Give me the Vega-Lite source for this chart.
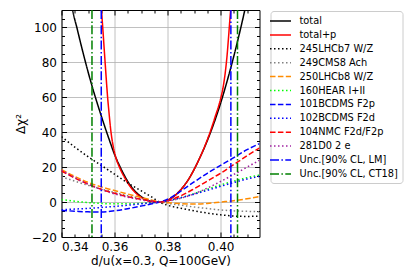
{
  "$schema": "https://vega.github.io/schema/vega-lite/v6.json",
  "width": 198,
  "height": 227,
  "autosize": "none",
  "padding": {"left": 61.5, "top": 10, "right": 160.5, "bottom": 43},
  "config": {
    "font": "DejaVu Sans",
    "view": {"stroke": null},
    "axis": {
      "labelFont": "DejaVu Sans", "titleFont": "DejaVu Sans",
      "labelFontSize": 12, "titleFontSize": 12, "titleFontWeight": "normal",
      "labelColor": "#000000", "titleColor": "#000000",
      "domainColor": "#000000", "tickColor": "#000000",
      "gridColor": "#b0b0b0", "gridWidth": 0.8, "domainWidth": 1, "tickWidth": 1
    }
  },
  "datasets": {
    "curves": [
      {"s": "total", "x": 0.3435, "y": 117},
      {"s": "total", "x": 0.344, "y": 111.9},
      {"s": "total", "x": 0.346, "y": 98.7},
      {"s": "total", "x": 0.348, "y": 86.3},
      {"s": "total", "x": 0.350, "y": 74.7},
      {"s": "total", "x": 0.352, "y": 64},
      {"s": "total", "x": 0.354, "y": 54.1},
      {"s": "total", "x": 0.356, "y": 44.7},
      {"s": "total", "x": 0.358, "y": 35.8},
      {"s": "total", "x": 0.360, "y": 27.3},
      {"s": "total", "x": 0.362, "y": 20.5},
      {"s": "total", "x": 0.364, "y": 14.5},
      {"s": "total", "x": 0.366, "y": 9.5},
      {"s": "total", "x": 0.368, "y": 5.8},
      {"s": "total", "x": 0.370, "y": 3.2},
      {"s": "total", "x": 0.372, "y": 1.4},
      {"s": "total", "x": 0.374, "y": 0.4},
      {"s": "total", "x": 0.3765, "y": 0},
      {"s": "total", "x": 0.378, "y": 0.15},
      {"s": "total", "x": 0.380, "y": 1.1},
      {"s": "total", "x": 0.382, "y": 2.8},
      {"s": "total", "x": 0.384, "y": 5.4},
      {"s": "total", "x": 0.386, "y": 8.9},
      {"s": "total", "x": 0.388, "y": 13.2},
      {"s": "total", "x": 0.390, "y": 18.6},
      {"s": "total", "x": 0.392, "y": 24.8},
      {"s": "total", "x": 0.394, "y": 31.5},
      {"s": "total", "x": 0.396, "y": 39},
      {"s": "total", "x": 0.398, "y": 47.3},
      {"s": "total", "x": 0.400, "y": 56.5},
      {"s": "total", "x": 0.402, "y": 66.7},
      {"s": "total", "x": 0.404, "y": 77.7},
      {"s": "total", "x": 0.406, "y": 89.5},
      {"s": "total", "x": 0.408, "y": 102.2},
      {"s": "total", "x": 0.410, "y": 115.7},
      {"s": "total+p", "x": 0.3545, "y": 125},
      {"s": "total+p", "x": 0.355, "y": 112},
      {"s": "total+p", "x": 0.3556, "y": 99},
      {"s": "total+p", "x": 0.3565, "y": 79},
      {"s": "total+p", "x": 0.3574, "y": 60},
      {"s": "total+p", "x": 0.358, "y": 50},
      {"s": "total+p", "x": 0.3586, "y": 41},
      {"s": "total+p", "x": 0.3595, "y": 32},
      {"s": "total+p", "x": 0.3605, "y": 25.5},
      {"s": "total+p", "x": 0.362, "y": 19.5},
      {"s": "total+p", "x": 0.364, "y": 13.5},
      {"s": "total+p", "x": 0.366, "y": 8.7},
      {"s": "total+p", "x": 0.368, "y": 5.2},
      {"s": "total+p", "x": 0.370, "y": 2.7},
      {"s": "total+p", "x": 0.372, "y": 1.1},
      {"s": "total+p", "x": 0.374, "y": 0.3},
      {"s": "total+p", "x": 0.3765, "y": 0},
      {"s": "total+p", "x": 0.378, "y": 0.2},
      {"s": "total+p", "x": 0.380, "y": 1.1},
      {"s": "total+p", "x": 0.382, "y": 2.8},
      {"s": "total+p", "x": 0.384, "y": 5.4},
      {"s": "total+p", "x": 0.386, "y": 8.9},
      {"s": "total+p", "x": 0.388, "y": 13.2},
      {"s": "total+p", "x": 0.390, "y": 18.6},
      {"s": "total+p", "x": 0.392, "y": 24.8},
      {"s": "total+p", "x": 0.394, "y": 31.8},
      {"s": "total+p", "x": 0.396, "y": 39.8},
      {"s": "total+p", "x": 0.398, "y": 49},
      {"s": "total+p", "x": 0.400, "y": 59},
      {"s": "total+p", "x": 0.401, "y": 66},
      {"s": "total+p", "x": 0.402, "y": 77},
      {"s": "total+p", "x": 0.4025, "y": 84.5},
      {"s": "total+p", "x": 0.403, "y": 94},
      {"s": "total+p", "x": 0.4035, "y": 104},
      {"s": "total+p", "x": 0.404, "y": 113},
      {"s": "total+p", "x": 0.4045, "y": 121},
      {"s": "245LHCb7 W/Z", "x": 0.340, "y": 37.5},
      {"s": "245LHCb7 W/Z", "x": 0.345, "y": 31.5},
      {"s": "245LHCb7 W/Z", "x": 0.350, "y": 26},
      {"s": "245LHCb7 W/Z", "x": 0.355, "y": 21},
      {"s": "245LHCb7 W/Z", "x": 0.360, "y": 16},
      {"s": "245LHCb7 W/Z", "x": 0.365, "y": 11},
      {"s": "245LHCb7 W/Z", "x": 0.370, "y": 6.5},
      {"s": "245LHCb7 W/Z", "x": 0.375, "y": 2},
      {"s": "245LHCb7 W/Z", "x": 0.377, "y": 0},
      {"s": "245LHCb7 W/Z", "x": 0.380, "y": -1.8},
      {"s": "245LHCb7 W/Z", "x": 0.385, "y": -3.5},
      {"s": "245LHCb7 W/Z", "x": 0.390, "y": -5},
      {"s": "245LHCb7 W/Z", "x": 0.395, "y": -6.3},
      {"s": "245LHCb7 W/Z", "x": 0.400, "y": -7.3},
      {"s": "245LHCb7 W/Z", "x": 0.405, "y": -8},
      {"s": "245LHCb7 W/Z", "x": 0.410, "y": -8.2},
      {"s": "245LHCb7 W/Z", "x": 0.4147, "y": -8},
      {"s": "249CMS8 Ach", "x": 0.340, "y": 14.5},
      {"s": "249CMS8 Ach", "x": 0.345, "y": 12},
      {"s": "249CMS8 Ach", "x": 0.350, "y": 9.6},
      {"s": "249CMS8 Ach", "x": 0.355, "y": 7.5},
      {"s": "249CMS8 Ach", "x": 0.360, "y": 5.5},
      {"s": "249CMS8 Ach", "x": 0.365, "y": 3.7},
      {"s": "249CMS8 Ach", "x": 0.370, "y": 2.1},
      {"s": "249CMS8 Ach", "x": 0.375, "y": 0.6},
      {"s": "249CMS8 Ach", "x": 0.377, "y": 0},
      {"s": "249CMS8 Ach", "x": 0.380, "y": -0.7},
      {"s": "249CMS8 Ach", "x": 0.385, "y": -1.8},
      {"s": "249CMS8 Ach", "x": 0.390, "y": -2.8},
      {"s": "249CMS8 Ach", "x": 0.395, "y": -3.7},
      {"s": "249CMS8 Ach", "x": 0.400, "y": -4.5},
      {"s": "249CMS8 Ach", "x": 0.405, "y": -5},
      {"s": "249CMS8 Ach", "x": 0.410, "y": -5.3},
      {"s": "249CMS8 Ach", "x": 0.4147, "y": -5.5},
      {"s": "250LHCb8 W/Z", "x": 0.340, "y": 18.5},
      {"s": "250LHCb8 W/Z", "x": 0.345, "y": 14.7},
      {"s": "250LHCb8 W/Z", "x": 0.350, "y": 11.3},
      {"s": "250LHCb8 W/Z", "x": 0.355, "y": 8.7},
      {"s": "250LHCb8 W/Z", "x": 0.360, "y": 6.6},
      {"s": "250LHCb8 W/Z", "x": 0.365, "y": 4.6},
      {"s": "250LHCb8 W/Z", "x": 0.370, "y": 2.7},
      {"s": "250LHCb8 W/Z", "x": 0.375, "y": 0.8},
      {"s": "250LHCb8 W/Z", "x": 0.377, "y": 0},
      {"s": "250LHCb8 W/Z", "x": 0.380, "y": -0.4},
      {"s": "250LHCb8 W/Z", "x": 0.385, "y": -0.9},
      {"s": "250LHCb8 W/Z", "x": 0.390, "y": -1.1},
      {"s": "250LHCb8 W/Z", "x": 0.395, "y": -0.8},
      {"s": "250LHCb8 W/Z", "x": 0.400, "y": 0},
      {"s": "250LHCb8 W/Z", "x": 0.405, "y": 0.8},
      {"s": "250LHCb8 W/Z", "x": 0.410, "y": 1.9},
      {"s": "250LHCb8 W/Z", "x": 0.4147, "y": 3.2},
      {"s": "160HEAR I+II", "x": 0.340, "y": 1.5},
      {"s": "160HEAR I+II", "x": 0.345, "y": 0.5},
      {"s": "160HEAR I+II", "x": 0.350, "y": -0.3},
      {"s": "160HEAR I+II", "x": 0.355, "y": -0.8},
      {"s": "160HEAR I+II", "x": 0.360, "y": -1},
      {"s": "160HEAR I+II", "x": 0.365, "y": -1},
      {"s": "160HEAR I+II", "x": 0.370, "y": -0.7},
      {"s": "160HEAR I+II", "x": 0.375, "y": -0.2},
      {"s": "160HEAR I+II", "x": 0.377, "y": 0},
      {"s": "160HEAR I+II", "x": 0.380, "y": 0.7},
      {"s": "160HEAR I+II", "x": 0.385, "y": 2.5},
      {"s": "160HEAR I+II", "x": 0.390, "y": 4.8},
      {"s": "160HEAR I+II", "x": 0.395, "y": 7.3},
      {"s": "160HEAR I+II", "x": 0.400, "y": 9.8},
      {"s": "160HEAR I+II", "x": 0.405, "y": 12},
      {"s": "160HEAR I+II", "x": 0.410, "y": 14},
      {"s": "160HEAR I+II", "x": 0.4147, "y": 15.5},
      {"s": "101BCDMS F2p", "x": 0.340, "y": -4.8},
      {"s": "101BCDMS F2p", "x": 0.345, "y": -5.2},
      {"s": "101BCDMS F2p", "x": 0.350, "y": -5.6},
      {"s": "101BCDMS F2p", "x": 0.355, "y": -5.7},
      {"s": "101BCDMS F2p", "x": 0.360, "y": -5},
      {"s": "101BCDMS F2p", "x": 0.365, "y": -3.8},
      {"s": "101BCDMS F2p", "x": 0.370, "y": -2.3},
      {"s": "101BCDMS F2p", "x": 0.375, "y": -0.7},
      {"s": "101BCDMS F2p", "x": 0.377, "y": 0},
      {"s": "101BCDMS F2p", "x": 0.380, "y": 1.6},
      {"s": "101BCDMS F2p", "x": 0.385, "y": 6.3},
      {"s": "101BCDMS F2p", "x": 0.390, "y": 11.5},
      {"s": "101BCDMS F2p", "x": 0.395, "y": 16.5},
      {"s": "101BCDMS F2p", "x": 0.400, "y": 21},
      {"s": "101BCDMS F2p", "x": 0.405, "y": 25.5},
      {"s": "101BCDMS F2p", "x": 0.410, "y": 30},
      {"s": "101BCDMS F2p", "x": 0.4147, "y": 33.5},
      {"s": "102BCDMS F2d", "x": 0.340, "y": -4.4},
      {"s": "102BCDMS F2d", "x": 0.345, "y": -4},
      {"s": "102BCDMS F2d", "x": 0.350, "y": -3.6},
      {"s": "102BCDMS F2d", "x": 0.355, "y": -3.1},
      {"s": "102BCDMS F2d", "x": 0.360, "y": -2.5},
      {"s": "102BCDMS F2d", "x": 0.365, "y": -1.8},
      {"s": "102BCDMS F2d", "x": 0.370, "y": -1},
      {"s": "102BCDMS F2d", "x": 0.375, "y": -0.3},
      {"s": "102BCDMS F2d", "x": 0.377, "y": 0},
      {"s": "102BCDMS F2d", "x": 0.380, "y": 0.8},
      {"s": "102BCDMS F2d", "x": 0.385, "y": 2.5},
      {"s": "102BCDMS F2d", "x": 0.390, "y": 4.5},
      {"s": "102BCDMS F2d", "x": 0.395, "y": 6.7},
      {"s": "102BCDMS F2d", "x": 0.400, "y": 9},
      {"s": "102BCDMS F2d", "x": 0.405, "y": 11.2},
      {"s": "102BCDMS F2d", "x": 0.410, "y": 13.2},
      {"s": "102BCDMS F2d", "x": 0.4147, "y": 14.8},
      {"s": "104NMC F2d/F2p", "x": 0.340, "y": 17.8},
      {"s": "104NMC F2d/F2p", "x": 0.345, "y": 13.8},
      {"s": "104NMC F2d/F2p", "x": 0.350, "y": 10.3},
      {"s": "104NMC F2d/F2p", "x": 0.355, "y": 7.3},
      {"s": "104NMC F2d/F2p", "x": 0.360, "y": 5},
      {"s": "104NMC F2d/F2p", "x": 0.365, "y": 3.1},
      {"s": "104NMC F2d/F2p", "x": 0.370, "y": 1.6},
      {"s": "104NMC F2d/F2p", "x": 0.375, "y": 0.4},
      {"s": "104NMC F2d/F2p", "x": 0.377, "y": 0},
      {"s": "104NMC F2d/F2p", "x": 0.380, "y": 0.8},
      {"s": "104NMC F2d/F2p", "x": 0.385, "y": 3.6},
      {"s": "104NMC F2d/F2p", "x": 0.390, "y": 7.6},
      {"s": "104NMC F2d/F2p", "x": 0.395, "y": 12},
      {"s": "104NMC F2d/F2p", "x": 0.400, "y": 16.5},
      {"s": "104NMC F2d/F2p", "x": 0.405, "y": 21.5},
      {"s": "104NMC F2d/F2p", "x": 0.410, "y": 26.5},
      {"s": "104NMC F2d/F2p", "x": 0.4147, "y": 31},
      {"s": "281D0 2 e", "x": 0.340, "y": 18.3},
      {"s": "281D0 2 e", "x": 0.345, "y": 14},
      {"s": "281D0 2 e", "x": 0.350, "y": 10.3},
      {"s": "281D0 2 e", "x": 0.355, "y": 7.1},
      {"s": "281D0 2 e", "x": 0.360, "y": 4.7},
      {"s": "281D0 2 e", "x": 0.365, "y": 2.8},
      {"s": "281D0 2 e", "x": 0.370, "y": 1.3},
      {"s": "281D0 2 e", "x": 0.375, "y": 0.3},
      {"s": "281D0 2 e", "x": 0.377, "y": 0},
      {"s": "281D0 2 e", "x": 0.380, "y": 0.5},
      {"s": "281D0 2 e", "x": 0.385, "y": 2.2},
      {"s": "281D0 2 e", "x": 0.390, "y": 4.7},
      {"s": "281D0 2 e", "x": 0.395, "y": 8},
      {"s": "281D0 2 e", "x": 0.400, "y": 11.8},
      {"s": "281D0 2 e", "x": 0.405, "y": 15.8},
      {"s": "281D0 2 e", "x": 0.410, "y": 20},
      {"s": "281D0 2 e", "x": 0.4147, "y": 24}
    ],
    "vlines": [
      {"s": "Unc.[90% CL, LM]", "x": 0.3550},
      {"s": "Unc.[90% CL, LM]", "x": 0.4039},
      {"s": "Unc.[90% CL, CT18]", "x": 0.3515},
      {"s": "Unc.[90% CL, CT18]", "x": 0.4064}
    ]
  },
  "layer": [
    {
      "data": {"name": "curves"},
      "mark": {"type": "line", "clip": true, "strokeWidth": 1.5, "interpolate": "monotone"},
      "encoding": {
        "x": {"field": "x", "type": "quantitative",
          "scale": {"domain": [0.34, 0.4147], "nice": false, "zero": false},
          "axis": {"orient": "bottom", "values": [0.34, 0.36, 0.38, 0.40], "format": ".2f", "grid": true,
                   "tickSize": -5, "labelPadding": 9, "title": "d/u(x=0.3, Q=100GeV)", "titlePadding": 3}},
        "y": {"field": "y", "type": "quantitative",
          "scale": {"domain": [-20, 110], "nice": false, "zero": false},
          "axis": {"orient": "left", "values": [-20, 0, 20, 40, 60, 80, 100], "grid": true,
                   "tickSize": -5, "labelPadding": 10, "title": "Δχ²", "titlePadding": 4}},
        "color": {"field": "s", "type": "nominal",
          "scale": {"domain": ["total", "total+p", "245LHCb7 W/Z", "249CMS8 Ach", "250LHCb8 W/Z", "160HEAR I+II", "101BCDMS F2p", "102BCDMS F2d", "104NMC F2d/F2p", "281D0 2 e", "Unc.[90% CL, LM]", "Unc.[90% CL, CT18]"],
                    "range": ["#000000", "#ff0000", "#000000", "#808080", "#ff8c00", "#00ff00", "#0000ff", "#0000ff", "#ff0000", "#a020a0", "#0000ff", "#008000"]},
          "legend": {"orient": "none", "legendX": 209, "legendY": 1, "title": null,
                     "labelFont": "DejaVu Sans", "labelFontSize": 9.8, "labelColor": "#000000",
                     "symbolType": "M-2,0H2", "symbolSize": 110, "symbolStrokeWidth": 1.5,
                     "labelOffset": 13, "rowPadding": 2.9, "padding": 4,
                     "strokeColor": "#cccccc", "fillColor": "white", "cornerRadius": 3}},
        "strokeDash": {"field": "s", "type": "nominal",
          "scale": {"domain": ["total", "total+p", "245LHCb7 W/Z", "249CMS8 Ach", "250LHCb8 W/Z", "160HEAR I+II", "101BCDMS F2p", "102BCDMS F2d", "104NMC F2d/F2p", "281D0 2 e", "Unc.[90% CL, LM]", "Unc.[90% CL, CT18]"],
                    "range": [[1, 0], [1, 0], [1.5, 2.5], [1.5, 2.5], [5.5, 2.4], [1.5, 2.5], [5.5, 2.4], [1.5, 2.5], [5.5, 2.4], [1.5, 2.5], [9, 2.4, 1.5, 2.4], [9, 2.4, 1.5, 2.4]]},
          "legend": {"orient": "none", "legendX": 209, "legendY": 1, "title": null,
                     "labelFont": "DejaVu Sans", "labelFontSize": 9.8, "labelColor": "#000000",
                     "symbolType": "M-2,0H2", "symbolSize": 110, "symbolStrokeWidth": 1.5,
                     "labelOffset": 13, "rowPadding": 2.9, "padding": 4,
                     "strokeColor": "#cccccc", "fillColor": "white", "cornerRadius": 3}}
      }
    },
    {
      "data": {"name": "vlines"},
      "mark": {"type": "rule", "strokeWidth": 1.5},
      "encoding": {
        "x": {"field": "x", "type": "quantitative",
          "scale": {"domain": [0.34, 0.4147], "nice": false, "zero": false},
          "axis": {"orient": "top", "values": [0.34, 0.36, 0.38, 0.40], "labels": false, "grid": false, "tickSize": -5, "title": null}},
        "color": {"field": "s", "type": "nominal",
          "scale": {"domain": ["total", "total+p", "245LHCb7 W/Z", "249CMS8 Ach", "250LHCb8 W/Z", "160HEAR I+II", "101BCDMS F2p", "102BCDMS F2d", "104NMC F2d/F2p", "281D0 2 e", "Unc.[90% CL, LM]", "Unc.[90% CL, CT18]"],
                    "range": ["#000000", "#ff0000", "#000000", "#808080", "#ff8c00", "#00ff00", "#0000ff", "#0000ff", "#ff0000", "#a020a0", "#0000ff", "#008000"]}},
        "strokeDash": {"field": "s", "type": "nominal",
          "scale": {"domain": ["total", "total+p", "245LHCb7 W/Z", "249CMS8 Ach", "250LHCb8 W/Z", "160HEAR I+II", "101BCDMS F2p", "102BCDMS F2d", "104NMC F2d/F2p", "281D0 2 e", "Unc.[90% CL, LM]", "Unc.[90% CL, CT18]"],
                    "range": [[1, 0], [1, 0], [1.5, 2.5], [1.5, 2.5], [5.5, 2.4], [1.5, 2.5], [5.5, 2.4], [1.5, 2.5], [5.5, 2.4], [1.5, 2.5], [9, 2.4, 1.5, 2.4], [9, 2.4, 1.5, 2.4]]}}
      }
    },
    {
      "data": {"name": "curves"},
      "mark": {"type": "point", "opacity": 0},
      "encoding": {
        "x": {"field": "x", "type": "quantitative",
          "scale": {"domain": [0.34, 0.4147], "nice": false, "zero": false},
          "axis": {"orient": "bottom", "values": [0.345, 0.35, 0.355, 0.365, 0.37, 0.375, 0.385, 0.39, 0.395, 0.405, 0.41], "labels": false, "grid": false, "domain": false, "tickSize": -3, "title": null}},
        "y": {"field": "y", "type": "quantitative",
          "scale": {"domain": [-20, 110], "nice": false, "zero": false},
          "axis": {"orient": "right", "values": [-20, 0, 20, 40, 60, 80, 100], "labels": false, "grid": false, "tickSize": -5, "title": null}}
      }
    },
    {
      "data": {"name": "curves"},
      "mark": {"type": "point", "opacity": 0},
      "encoding": {
        "x": {"field": "x", "type": "quantitative",
          "scale": {"domain": [0.34, 0.4147], "nice": false, "zero": false},
          "axis": {"orient": "top", "values": [0.345, 0.35, 0.355, 0.365, 0.37, 0.375, 0.385, 0.39, 0.395, 0.405, 0.41], "labels": false, "grid": false, "domain": false, "tickSize": -3, "title": null}},
        "y": {"field": "y", "type": "quantitative",
          "scale": {"domain": [-20, 110], "nice": false, "zero": false},
          "axis": {"orient": "left", "values": [-15, -10, -5, 5, 10, 15, 25, 30, 35, 45, 50, 55, 65, 70, 75, 85, 90, 95, 105], "labels": false, "grid": false, "domain": false, "tickSize": -3, "title": null}}
      }
    },
    {
      "data": {"name": "curves"},
      "mark": {"type": "point", "opacity": 0},
      "encoding": {
        "x": {"field": "x", "type": "quantitative",
          "scale": {"domain": [0.34, 0.4147], "nice": false, "zero": false},
          "axis": null},
        "y": {"field": "y", "type": "quantitative",
          "scale": {"domain": [-20, 110], "nice": false, "zero": false},
          "axis": {"orient": "right", "values": [-15, -10, -5, 5, 10, 15, 25, 30, 35, 45, 50, 55, 65, 70, 75, 85, 90, 95, 105], "labels": false, "grid": false, "domain": false, "tickSize": -3, "title": null}}
      }
    }
  ],
  "resolve": {"axis": {"x": "independent", "y": "independent"}}
}
